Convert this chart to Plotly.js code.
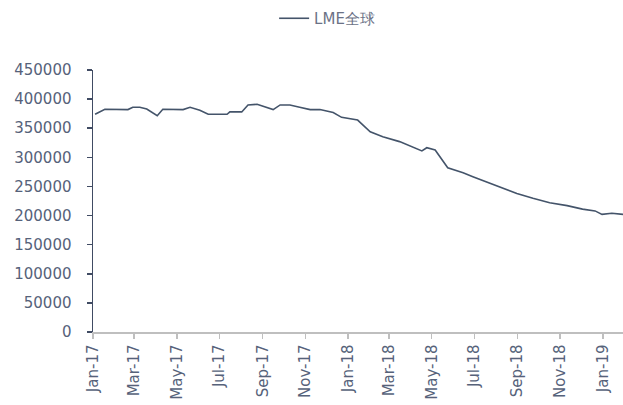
<!DOCTYPE html>
<html>
<head>
<meta charset="utf-8">
<script src="https://cdn.plot.ly/plotly-3.0.1.min.js"></script>
<style>html,body{margin:0;padding:0;background:#fff;}#chart{width:623px;height:405px;}</style>
</head>
<body>
<div id="chart"></div>
<script>
const seriesName = "LME全球";
const dates = [
  "2017-01-04","2017-01-18","2017-02-20","2017-02-27","2017-03-09","2017-03-19","2017-04-03","2017-04-11",
  "2017-05-10","2017-05-20","2017-06-03","2017-06-15","2017-07-12","2017-07-16","2017-08-02","2017-08-11",
  "2017-08-24","2017-09-07","2017-09-16","2017-09-26","2017-10-10","2017-10-24","2017-11-08","2017-11-22",
  "2017-12-11","2017-12-23","2018-01-15","2018-02-02","2018-02-20","2018-03-16","2018-04-03","2018-04-17",
  "2018-04-24","2018-05-06","2018-05-24","2018-06-15","2018-06-29","2018-07-19","2018-08-07","2018-08-31",
  "2018-09-23","2018-10-17","2018-11-11","2018-12-03","2018-12-21","2018-12-31","2019-01-14","2019-01-30"
];
const values = [
  374000,382500,382000,386000,386000,383000,371500,382500,
  382000,386000,381000,374000,374000,378000,378000,390000,
  391000,386000,382000,390000,390000,386000,382000,382000,
  377000,368700,364000,344000,335500,327000,318000,311000,
  316500,312600,282000,273600,266800,258000,249600,238000,
  229600,222000,217000,211000,208000,202000,204000,202000
];
const yTicks = [0,50000,100000,150000,200000,250000,300000,350000,400000,450000];

const tickFont = {family: "DejaVu Sans, sans-serif", size: 15, color: "#56627a"};

Plotly.newPlot("chart", [{
  x: dates, y: values, type: "scatter", mode: "lines", name: seriesName,
  line: {color: "#44546a", width: 1.6}
}], {
  width: 623, height: 405,
  margin: {l: 93, r: 0, t: 70, b: 73},
  paper_bgcolor: "#ffffff", plot_bgcolor: "#ffffff",
  showlegend: true,
  legend: {orientation: "h", xref: "container", yref: "container", x: 0.44, y: 0.995, xanchor: "left", yanchor: "top",
    font: {family: "DejaVu Sans, sans-serif", size: 15, color: "#6b7286"}},
  xaxis: {
    type: "date", range: ["2017-01-01", "2019-01-30"],
    tickmode: "linear", tick0: "2017-01-01", dtick: "M2", tickformat: "%b-%y",
    tickangle: -90, tickfont: tickFont,
    showgrid: false, zeroline: false,
    showline: true, linecolor: "#bfbfbf", linewidth: 1.5,
    ticks: "outside", ticklen: 5, tickcolor: "#bfbfbf", tickwidth: 1.5
  },
  yaxis: {
    range: [0, 450000], tickmode: "array", tickvals: yTicks, tickformat: "d",
    tickfont: tickFont, showgrid: false, zeroline: false,
    showline: true, linecolor: "#404b63", linewidth: 1.5,
    ticks: "outside", ticklen: 5, tickcolor: "#404b63", tickwidth: 1.5,
    ticklabelstandoff: 12
  }
}, {displayModeBar: false, staticPlot: true});
</script>
</body>
</html>
